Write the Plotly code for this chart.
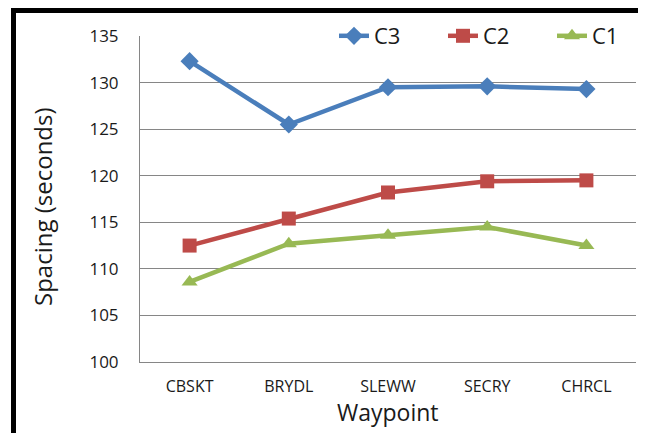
import plotly.graph_objects as go

waypoints = ["CBSKT", "BRYDL", "SLEWW", "SECRY", "CHRCL"]
c3 = [132.3, 125.5, 129.5, 129.6, 129.3]
c2 = [112.5, 115.4, 118.2, 119.4, 119.5]
c1 = [108.6, 112.7, 113.6, 114.5, 112.5]
y_ticks = [100, 105, 110, 115, 120, 125, 130, 135]

# page body has an 8px margin; compensate so absolute positions match
OFF = 8
W, H = 646 - OFF, 433 - OFF
ML, MR, MT, MB = 140 - OFF, 10, 36 - OFF, 71
PW, PH = W - ML - MR, H - MT - MB

def px(x):  # absolute page x -> paper
    return (x - OFF - ML) / PW

def py(y):  # absolute page y -> paper
    return (H - MB - (y - OFF)) / PH

fig = go.Figure()
series = [
    ("C3", c3, "#4A7EBB", "diamond", 14),
    ("C2", c2, "#BE4B48", "square", 14),
    ("C1", c1, "#98B954", "triangle-up", 14),
]
for name, vals, col, sym, sz in series:
    fig.add_trace(go.Scatter(
        x=waypoints, y=vals, name=name, mode="lines+markers",
        line=dict(color=col, width=4.5),
        marker=dict(symbol=sym, size=sz, color=col),
    ))

font = "Open Sans, Lato, sans-serif"
fig.update_layout(
    width=W, height=H,
    margin=dict(l=ML, r=MR, t=MT, b=MB, autoexpand=False),
    paper_bgcolor="white", plot_bgcolor="white",
    font=dict(family=font, color="#1a1a1a", size=16),
    showlegend=True,
    legend=dict(
        orientation="h", x=px(334), xanchor="left", y=1.0, yanchor="middle",
        bgcolor="white", font=dict(size=22, family=font),
        entrywidth=64, entrywidthmode="pixels", tracegroupgap=0,
    ),
    xaxis=dict(
        type="category", range=[-0.5, 4.5], automargin=False,
        showline=True, linecolor="#868686", linewidth=1,
        showgrid=False, ticks="", tickfont=dict(size=16),
        ticklabelstandoff=10,
    ),
    yaxis=dict(
        range=[100, 135], tickvals=y_ticks, automargin=False,
        showline=True, linecolor="#868686", linewidth=1,
        showgrid=True, gridcolor="#868686", gridwidth=1,
        ticks="", tickfont=dict(size=17), ticklabelstandoff=17,
        zeroline=False,
    ),
    annotations=[
        dict(text="Waypoint", xref="paper", yref="paper", x=0.5, y=py(412),
             xanchor="center", yanchor="middle", showarrow=False,
             font=dict(size=23, family=font, color="#1a1a1a")),
        dict(text="Spacing (seconds)", xref="paper", yref="paper", x=px(42),
             y=py(207), xanchor="center", yanchor="middle", showarrow=False,
             textangle=-90, font=dict(size=24, family=font, color="#1a1a1a")),
    ],
)

# outer frame: thick black on left/top, thin grey on right
fig.add_shape(type="rect", xref="paper", yref="paper",
              x0=px(11), x1=px(16), y0=py(440), y1=py(7),
              fillcolor="black", line=dict(width=0), layer="above")
fig.add_shape(type="rect", xref="paper", yref="paper",
              x0=px(11), x1=px(643), y0=py(13), y1=py(7),
              fillcolor="black", line=dict(width=0), layer="above")
fig.add_shape(type="line", xref="paper", yref="paper",
              x0=px(642), x1=px(642), y0=py(13), y1=py(440),
              line=dict(color="#BBBBBB", width=1), layer="above")

fig.write_html("out.html")
